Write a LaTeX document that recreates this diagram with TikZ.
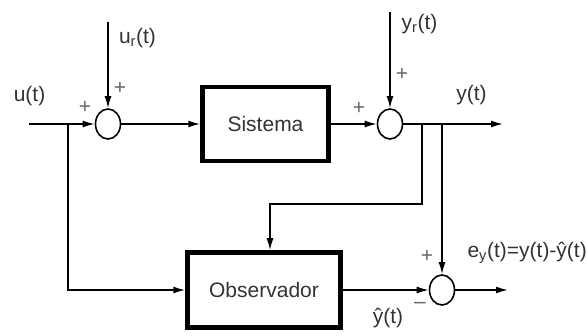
\documentclass[tikz,border=0pt]{standalone}
\usepackage{fontspec}
\setmainfont{Liberation Sans}
\usetikzlibrary{arrows.meta,shapes.geometric}

\begin{document}
\begin{tikzpicture}[
  x=1pt, y=-1pt,
  font=\fontsize{21}{24}\selectfont,
  blk/.style={draw, line width=4.5pt, inner sep=0pt, text=black!80},
  sum/.style={draw, ellipse, line width=1.6pt, minimum width=25pt, minimum height=30pt, inner sep=0pt},
  flow/.style={draw, line width=1.6pt, -{Latex[length=12pt,width=7pt]}},
  lbl/.style={text=black!80, inner sep=0pt},
  sgn/.style={text=black!60, inner sep=0pt, font=\fontsize{21}{24}\selectfont},
]
\useasboundingbox (0,0) rectangle (587,336);

% ---------------- blocks and summing points ----------------
\node[sum] (s1) at (108,124) {};
\node[blk, minimum width=126pt, minimum height=74pt] (sis) at (265.5,124) {Sistema};
\node[sum] (s2) at (390,124) {};
\node[blk, minimum width=153pt, minimum height=75pt] (obs) at (264,290) {Observador};
\node[sum] (s3) at (442,290) {};

% free ends and branch points
\coordinate (uin)  at (29,124);
\coordinate (b0)   at (68,124);
\coordinate (urin) at (108,22);
\coordinate (yrin) at (390,12);
\coordinate (b1)   at (422,124);
\coordinate (b2)   at (442,124);
\coordinate (k1)   at (270,204);
\coordinate (yout) at (503,124);
\coordinate (eout) at (508,290);

% ---------------- upper loop ----------------
\draw[flow] (uin)  -- (s1);
\draw[flow] (urin) -- (s1);
\draw[flow] (s1)   -- (sis);
\draw[flow] (sis)  -- (s2);
\draw[flow] (yrin) -- (s2);
\draw[flow] (s2)   -- (yout);

% ---------------- observer ----------------
\draw[flow] (b0) |- (obs);
\draw[flow] (b1) |- (k1) -- (k1 |- obs.north);
\draw[flow] (b2)  -- (s3);
\draw[flow] (obs) -- (s3);
\draw[flow] (s3)  -- (eout);

% ---------------- labels ----------------
\node[lbl] (lu)  at (29.5,96.5) {u(t)};
\node[lbl] (lur) at (137.5,38)  {u\textsubscript{r}(t)};
\node[lbl] (lyr) at (419.5,24)  {y\textsubscript{r}(t)};
\node[lbl] (ly)  at (471.5,95.5) {y(t)};
\node[lbl, anchor=east] (le) at (587,253) {e\textsubscript{y}(t)=y(t)-\^{y}(t)};
\node[lbl] (lyh) at (388,318) {\^{y}(t)};

\node[sgn] at (120,88)  {+};
\node[sgn] at (85,107)  {+};
\node[sgn] at (402,74)  {+};
\node[sgn] at (359,108) {+};
\node[sgn] at (427,256) {+};
\node[sgn] at (420,305) {\textendash};

\end{tikzpicture}
\end{document}
